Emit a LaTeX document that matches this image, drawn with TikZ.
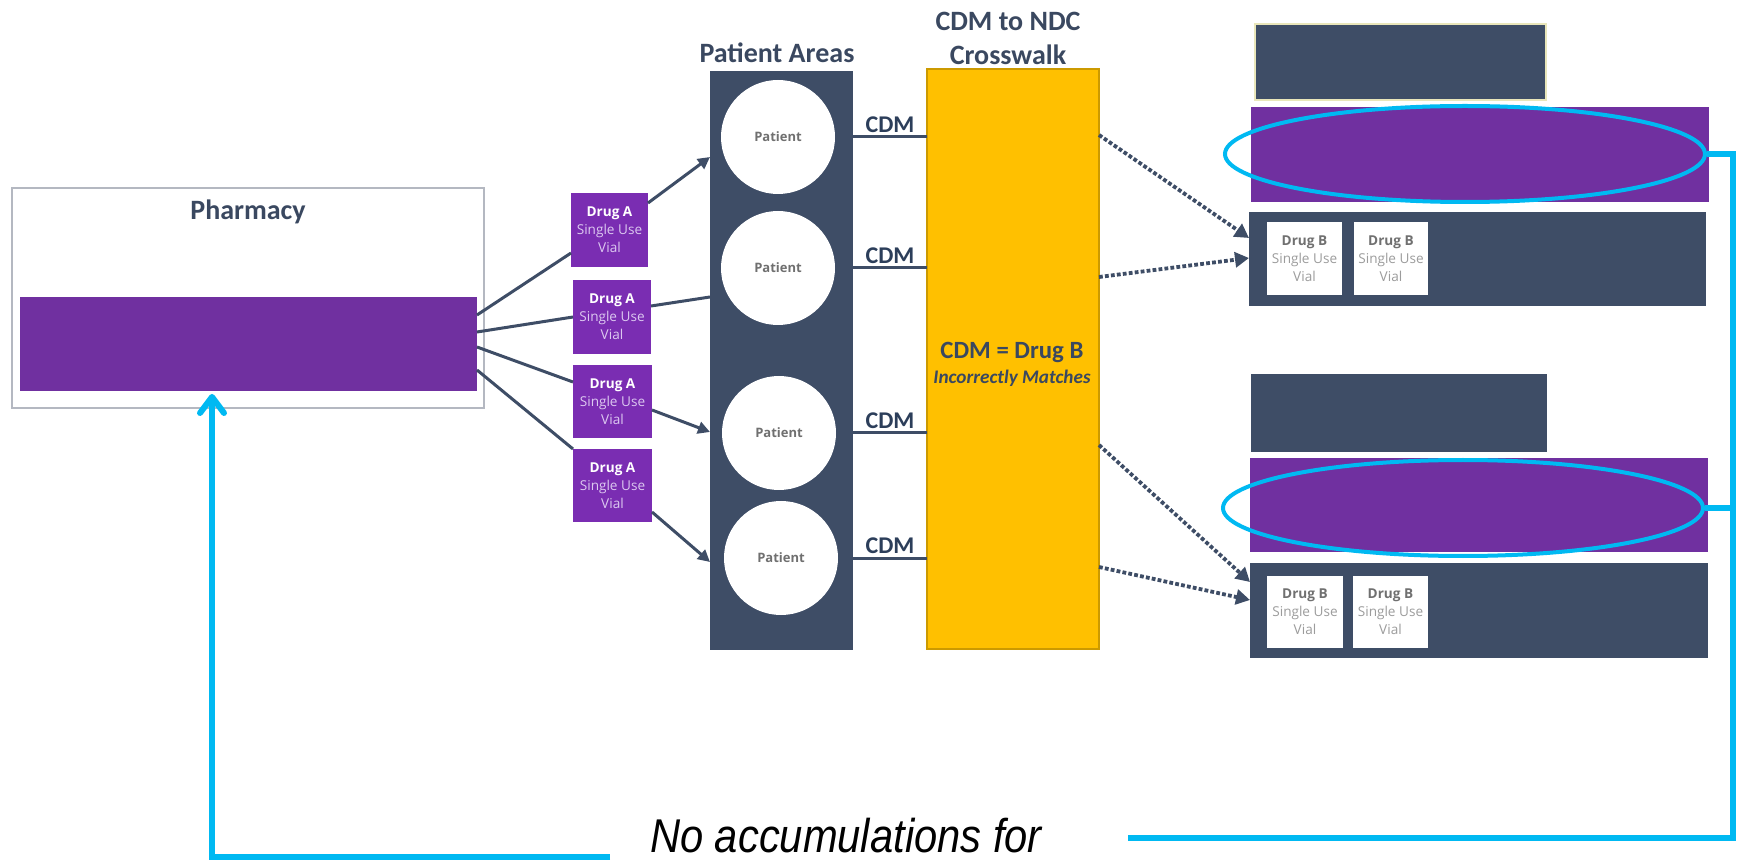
\documentclass[tikz,border=0pt]{standalone}
\usepackage{fontspec}
\setmainfont{Carlito}
\newfontfamily\vialfont{Open Sans}
\newfontfamily\notefont{Liberation Sans}
\usetikzlibrary{arrows.meta,shapes.geometric,fit,calc}

\definecolor{slate}{HTML}{3E4D66}
\definecolor{ink}{HTML}{3A4860}
\definecolor{navy}{HTML}{2C3E5A}
\definecolor{plum}{HTML}{7030A0}
\definecolor{vialplum}{HTML}{7A2DB2}
\definecolor{lav}{HTML}{DCC8F0}
\definecolor{amber}{HTML}{FFC000}
\definecolor{sky}{HTML}{00B9F2}
\definecolor{frame}{HTML}{B4B8C1}
\definecolor{patgrey}{HTML}{707070}
\definecolor{vialgrey}{HTML}{9C9C9C}

\begin{document}
\begin{tikzpicture}[x=0.5pt,y=-0.5pt,
  box/.style={inner sep=0pt, outer sep=0pt},
  slatebox/.style={box, fill=slate},
  plumbox/.style={box, fill=plum},
  vialA/.style={box, fill=vialplum},
  vialB/.style={box, fill=white},
  vialAtext/.style={align=center, inner sep=0pt, text=lav,
    font=\vialfont\fontsize{6.8}{9}\selectfont},
  vialBtext/.style={align=center, inner sep=0pt, text=vialgrey,
    font=\vialfont\fontsize{6.8}{9}\selectfont},
  patient/.style={circle, fill=white, minimum size=57pt, inner sep=0pt,
    text=patgrey, font=\vialfont\bfseries\fontsize{6.5}{8}\selectfont},
  heading/.style={inner sep=0pt, text=ink, font=\bfseries\fontsize{14}{17}\selectfont, align=center},
  cdm/.style={inner sep=1.5pt, text=navy, font=\bfseries\fontsize{12}{14}\selectfont},
  wire/.style={draw=slate, line width=1.5pt},
  feed/.style={wire, -{Triangle[length=6pt,width=6pt]}},
  dots/.style={draw=slate, line width=1.9pt, dash pattern=on 1.9pt off 1.1pt,
    -{Triangle[length=7pt,width=7.5pt]}},
  ring/.style={ellipse, draw=sky, line width=2pt, inner sep=0pt,
    minimum width=240pt, minimum height=48pt},
  skyline/.style={draw=sky, line width=2.6pt}
]
\useasboundingbox (0,0) rectangle (1737,861);

% Pharmacy
\node[box, fill=white, draw=frame, line width=1.2pt, fit={(12,188) (484,408)}] (ph) {};
\node[heading] (phlabel) at (248,212) {Pharmacy};
\node[plumbox, fit={(20,297) (477,391)}] (phbar) {};

% Drug A single use vials
\node[vialA, fit={(571,193) (648,267)}] (vA1) {};
\node[vialA, fit={(573,280) (651,354)}] (vA2) {};
\node[vialA, fit={(573,365) (652,438)}] (vA3) {};
\node[vialA, fit={(573,449) (652,522)}] (vA4) {};
\foreach \v in {vA1,vA2,vA3,vA4}{
  \node[vialAtext] (\v t) at (\v) {{\bfseries\color{white}Drug A}\\Single Use\\Vial};
}

% Patient areas
\node[slatebox, fit={(710,71) (853,650)}] (pa) {};
\node[heading] (palabel) at (777,53) {Patient Areas};
\node[patient] (p1) at (778,137) {Patient};
\node[patient] (p2) at (778,268) {Patient};
\node[patient] (p3) at (779,433) {Patient};
\node[patient] (p4) at (781,558) {Patient};

% Crosswalk
\node[box, fill=amber, draw=amber!80!black, line width=0.6pt, fit={(927,69) (1099,649)}] (cw) {};
\node[heading] (cwlabel) at (1008,38) {CDM to NDC\\Crosswalk};
\node[inner sep=0pt, text=ink, font=\bfseries\fontsize{12.4}{14}\selectfont] (cwmatch) at (1012,352) {CDM = Drug B};
\node[inner sep=0pt, text=ink, font=\bfseries\itshape\fontsize{9.6}{11}\selectfont] (cwnote) at (1012,378) {Incorrectly Matches};

% Right-hand groups
\node[slatebox, draw=white!80!olive, line width=0.6pt, fit={(1255,24) (1546,100)}] (top1) {};
\node[plumbox, fit={(1251,107) (1709,202)}] (pur1) {};
\node[slatebox, fit={(1249,212) (1706,306)}] (dk1) {};
\node[vialB, fit={(1267,222) (1342,295)}] (vB1) {};
\node[vialB, fit={(1354,222) (1428,295)}] (vB2) {};

\node[slatebox, fit={(1251,374) (1547,452)}] (top2) {};
\node[plumbox, fit={(1250,458) (1708,552)}] (pur2) {};
\node[slatebox, fit={(1250,563) (1708,658)}] (dk2) {};
\node[vialB, fit={(1267,576) (1343,648)}] (vB3) {};
\node[vialB, fit={(1353,576) (1428,648)}] (vB4) {};
\foreach \v in {vB1,vB2,vB3,vB4}{
  \node[vialBtext] (\v t) at (\v) {{\bfseries\color{patgrey}Drug B}\\Single Use\\Vial};
}

\node[ring] (ell1) at (1465,154) {};
\node[ring] (ell2) at (1463,508) {};

% Pharmacy to vials
\draw[wire] (phbar.east |- 0,315) -- (vA1.west |- 0,253);
\draw[wire] (phbar.east |- 0,332) -- (vA2.west |- 0,317);
\draw[wire] (phbar.east |- 0,347) -- (vA3.west |- 0,382);
\draw[wire] (phbar.east |- 0,370) -- (vA4.north west);

% Vials to patients
\draw[feed] (vA1.east |- 0,203) -- (pa.west |- 0,157);
\draw[wire] (vA2.east |- 0,306) -- (pa.west |- 0,297);
\draw[feed] (vA3.east |- 0,410) -- (pa.west |- 0,432);
\draw[feed] (vA4.east |- 0,512) -- (pa.west |- 0,562);

% Charges to the crosswalk
\foreach \p in {p1,p2,p3,p4}{
  \draw[wire] (pa.east |- \p) -- node[cdm, above] (\p cdm) {CDM} (cw.west |- \p);
}

% Crosswalk to dispensed drug
\draw[dots] (cw.east |- 0,135) -- (dk1.west |- 0,238);
\draw[dots] (cw.east |- 0,277) -- (dk1.west |- 0,258);
\draw[dots] (cw.east |- 0,445) -- (dk2.west |- 0,582);
\draw[dots] (cw.east |- 0,567) -- (dk2.west |- 0,600);

% Accumulation feedback
\node[anchor=base, inner sep=0pt, font=\notefont\itshape\fontsize{23.7}{24}\selectfont] (note) at (846,852) {\scalebox{0.88}[1]{No accumulations for}};
\coordinate (rc) at (1733,838);
\coordinate (re) at (1128,838);
\draw[skyline] (ell1.east) -| (rc) -- (re);
\draw[skyline] (ell2.east) -- (ell2.east -| rc);
\coordinate (ls) at (610,857);
\coordinate (lc) at (212,857);
\draw[skyline, line width=3pt, shorten >=1.5pt,
  -{Straight Barb[length=8pt,width=12pt,round]}] (ls) -- (lc) -- (lc |- phbar.south);
\end{tikzpicture}
\end{document}
